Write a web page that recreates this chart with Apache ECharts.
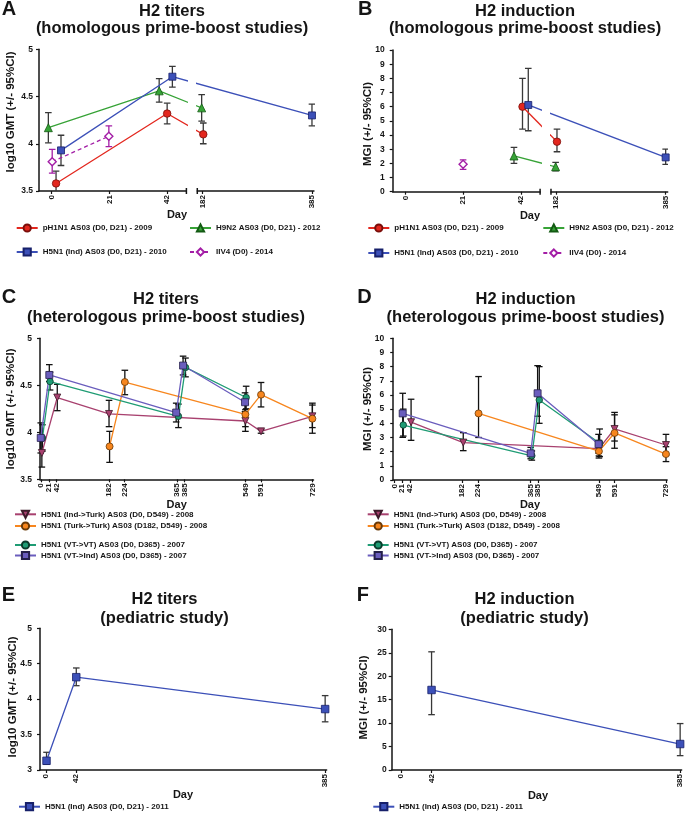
<!DOCTYPE html>
<html><head><meta charset="utf-8">
<script src="https://cdn.jsdelivr.net/npm/echarts@6/dist/echarts.min.js"></script>
<style>html,body{margin:0;padding:0;background:#fff}#c{width:685px;height:814px}</style>
</head><body><div id="c"></div><script>
// ================= DATA =================
// each point: [day, value, lower 95%CI, upper 95%CI]
// Panel A - H2 titers (log10 GMT), homologous prime-boost
const A_pH1N1 = [[1.6, 3.58, 3.45, 3.71], [42, 4.32, 4.21, 4.43], [183.5, 4.10, 4.00, 4.22]];
const A_H9N2  = [[-1.2, 4.17, 4.01, 4.33], [39.1, 4.56, 4.44, 4.69], [180.5, 4.38, 4.24, 4.52]];
const A_H5N1  = [[3.4, 3.93, 3.77, 4.09], [43.9, 4.71, 4.60, 4.82], [385, 4.30, 4.19, 4.42]];
const A_IIV4  = [[0.2, 3.81, 3.69, 3.94], [20.8, 4.08, 3.97, 4.19]];
// Panel B - H2 induction (MGI), homologous prime-boost
const B_pH1N1 = [[42.6, 6.0, 4.42, 8.0], [183.5, 3.53, 2.82, 4.42]];
const B_H9N2  = [[39.5, 2.52, 2.0, 3.13], [181, 1.76, 1.48, 2.07]];
const B_H5N1  = [[44.7, 6.12, 4.3, 8.7], [385, 2.42, 1.93, 3.01]];
const B_IIV4  = [[21, 1.93, 1.58, 2.24]];
// Panel C - H2 titers, heterologous prime-boost
const C_IndTurk  = [[2, 3.78, 3.63, 3.93], [43.4, 4.37, 4.23, 4.51], [182.5, 4.195, 4.06, 4.34], [549, 4.12, 4.01, 4.24], [591, 4.01, 3.99, 4.03], [729, 4.17, 4.05, 4.29]];
const C_TurkTurk = [[184, 3.85, 3.68, 4.01], [225, 4.535, 4.40, 4.66], [549, 4.19, 4.06, 4.30], [591, 4.40, 4.27, 4.53], [729, 4.145, 3.99, 4.31]];
const C_VTVT     = [[3.5, 3.94, 3.80, 4.08], [24, 4.54, 4.45, 4.64], [369, 4.17, 4.05, 4.30], [388, 4.69, 4.59, 4.79], [551, 4.37, 4.25, 4.49]];
const C_VTInd    = [[-1, 3.94, 3.78, 4.10], [22, 4.61, 4.54, 4.72], [363, 4.21, 4.11, 4.31], [381.5, 4.71, 4.61, 4.81], [548, 4.32, 4.22, 4.42]];
// Panel D - H2 induction, heterologous prime-boost
const D_IndTurk  = [[45, 4.08, 2.8, 5.7], [185, 2.64, 2.07, 3.34], [549, 2.22, 1.7, 2.8], [591, 3.6, 2.75, 4.77], [729, 2.47, 1.75, 3.22]];
const D_TurkTurk = [[226, 4.7, 3.0, 7.3], [549, 2.03, 1.55, 2.5], [591, 3.32, 2.24, 4.6], [729, 1.83, 1.3, 2.35]];
const D_VTVT     = [[24, 3.88, 3.1, 5.0], [369, 1.71, 1.4, 2.05], [389, 5.65, 4.0, 8.0], [551, 2.6, 1.65, 3.6]];
const D_VTInd    = [[22.5, 4.7, 3.01, 6.12], [366, 1.88, 1.5, 2.3], [384.5, 6.12, 4.5, 8.07], [548, 2.53, 1.9, 3.22]];
// Panels E/F - pediatric study
const E_H5N1 = [[1, 3.13, 3.08, 3.25], [42, 4.31, 4.19, 4.44], [385, 3.86, 3.68, 4.05]];
const F_H5N1 = [[42, 17.06, 11.8, 25.2], [385, 5.54, 3.06, 9.9]];

// names and tick labels
const homNames = ['pH1N1 AS03 (D0, D21) - 2009', 'H9N2 AS03 (D0, D21) - 2012', 'H5N1 (Ind) AS03 (D0, D21) - 2010', 'IIV4 (D0) - 2014'];
const hetNames = ['H5N1 (Ind->Turk) AS03 (D0, D549) - 2008', 'H5N1 (Turk->Turk) AS03 (D182, D549) - 2008', 'H5N1 (VT->VT) AS03 (D0, D365) - 2007', 'H5N1 (VT->Ind) AS03 (D0, D365) - 2007'];
const pedName = 'H5N1 (Ind) AS03 (D0, D21) - 2011';
const ticksHom = [0, 21, 42, 182, 385];
const ticksHet = [0, 21, 42, 182, 224, 365, 385, 549, 591, 729];
const ticksPed = [0, 42, 385];

// ================= STYLE / LAYOUT =================
const FONT = '"Liberation Sans", Arial, Helvetica, sans-serif';
const INK = '#151515';
const HOM_STYLE = [
  {color: '#e3271e', border: '#7a0e0a', symbol: 'circle', size: 7.5, err: '#383838'},
  {color: '#37a337', border: '#135a13', symbol: 'triangle', size: 8, err: '#383838'},
  {color: '#3c50b8', border: '#17206a', symbol: 'rect', size: 7, err: '#383838'},
  {color: '#a31ea6', fill: '#ffffff', border: '#a31ea6', symbol: 'diamond', size: 8, dash: [4, 3], err: '#a31ea6'}
];
const HET_STYLE = [
  {color: '#a8416f', border: '#3d1a2a', symbol: 'triangle', rotate: 180, size: 7, err: '#111'},
  {color: '#f7861e', border: '#6a3a08', symbol: 'circle', size: 7, err: '#111'},
  {color: '#1f9c74', border: '#0b3b2b', symbol: 'circle', size: 6.5, err: '#111'},
  {color: '#6a5dbd', border: '#25204a', symbol: 'rect', size: 7, err: '#111'}
];
const PED_STYLE = {color: '#3c50b8', border: '#17206a', symbol: 'rect', size: 7.5, err: '#383838'};

// broken day axis used in panels A/B (two linear segments with a gap)
const BRK = {lo: [-4.6, 49], hi: [172.4, 388.7], gap: 3.96, k: 0.19615, ppu: 2.75};
function brokenScale(d) { return d <= BRK.lo[1] ? d : BRK.lo[1] + BRK.gap + (d - BRK.hi[0]) * BRK.k; }
function brokenInverse(v) { return v <= BRK.lo[1] + BRK.gap / 2 ? v : BRK.hi[0] + (v - BRK.lo[1] - BRK.gap) / BRK.k; }
const identity = d => d;

const grids = [], xAxes = [], yAxes = [], series = [], legends = [], graphics = [];

function xAxisCfg(gridIndex, min, max, ticks, formatter) {
  return {gridIndex, type: 'value', min, max, splitLine: {show: false},
    axisLine: {show: true, onZero: false, lineStyle: {color: INK, width: 1.5}},
    axisTick: {show: true, customValues: ticks, length: 3, lineStyle: {color: INK, width: 1.2}},
    axisLabel: {show: true, customValues: ticks, rotate: 90, margin: 4, fontSize: 8, fontWeight: 'bold',
      fontFamily: FONT, color: INK, formatter: formatter || (v => String(Math.round(v)))}};
}
function yAxisCfg(gridIndex, c, show) {
  return {gridIndex, type: 'value', show, min: c.min, max: c.max, interval: c.interval, splitLine: {show: false},
    axisLine: {show: true, onZero: false, lineStyle: {color: INK, width: 1.5}},
    axisTick: {show: true, length: 3, lineStyle: {color: INK, width: 1.2}},
    axisLabel: {margin: c.margin, fontSize: 8.5, fontWeight: 'bold', fontFamily: FONT, color: INK}};
}
function lineSeries(name, pts, st, xi, yi, mapX) {
  return {type: 'line', name, xAxisIndex: xi, yAxisIndex: yi, z: 3, clip: true, animation: false,
    data: pts.map(p => [mapX(p[0]), p[1]]),
    symbol: st.symbol, symbolSize: st.size, symbolRotate: st.rotate || 0,
    itemStyle: {color: st.fill || st.color, borderColor: st.border, borderWidth: st.fill ? 1.4 : 0.8},
    lineStyle: {color: st.color, width: 1.3, type: st.dash || 'solid'},
    emphasis: {disabled: true}};
}
function errorSeries(pts, color, xi, yi, mapX, clip) {
  return {type: 'custom', xAxisIndex: xi, yAxisIndex: yi, clip, z: 2, silent: true, animation: false,
    data: pts.map(p => [mapX(p[0]), p[1], p[2], p[3]]),
    encode: {x: 0, y: 1},
    renderItem(params, api) {
      const x = api.value(0);
      const a = api.coord([x, api.value(2)]), b = api.coord([x, api.value(3)]);
      const w = 3.3, st = {stroke: color, lineWidth: 1.3};
      return {type: 'group', children: [
        {type: 'line', shape: {x1: a[0], y1: a[1], x2: b[0], y2: b[1]}, style: st},
        {type: 'line', shape: {x1: a[0] - w, y1: a[1], x2: a[0] + w, y2: a[1]}, style: st},
        {type: 'line', shape: {x1: b[0] - w, y1: b[1], x2: b[0] + w, y2: b[1]}, style: st}]};
    }};
}
function addLegend(name, left, rowY) {
  legends.push({data: [name], left, top: rowY - 5, padding: 0, itemWidth: 21, itemHeight: 9, selectedMode: false,
    textStyle: {fontFamily: FONT, fontWeight: 'bold', fontSize: 8, color: INK, lineHeight: 10}});
}
function text(x, y, str, size, opts) {
  opts = opts || {};
  graphics.push({type: 'text', x, y, rotation: opts.rot || 0, silent: true,
    style: {text: str, font: 'bold ' + size + 'px ' + FONT, fill: INK,
      align: opts.align || 'center', textAlign: opts.align || 'center', verticalAlign: 'middle', textVerticalAlign: 'middle'}});
}

function brokenPanel(left, top, height, yCfg, ticks, dataSets, names, styles) {
  const lw = (BRK.lo[1] - BRK.lo[0]) * BRK.ppu;
  const rl = left + lw + BRK.gap * BRK.ppu;
  const rw = (BRK.hi[1] - BRK.hi[0]) * BRK.k * BRK.ppu;
  const g = grids.length;
  grids.push({left, top, width: lw, height});
  grids.push({left: rl, top, width: rw, height});
  const leftTicks = ticks.filter(d => d <= BRK.lo[1]).map(brokenScale);
  const rightTicks = ticks.filter(d => d >= BRK.hi[0]).map(brokenScale);
  xAxes.push(xAxisCfg(g, BRK.lo[0], BRK.lo[1], leftTicks, null));
  xAxes.push(xAxisCfg(g + 1, brokenScale(BRK.hi[0]), brokenScale(BRK.hi[1]), rightTicks,
    v => String(Math.round(brokenInverse(v)))));
  yAxes.push(yAxisCfg(g, yCfg, true));
  yAxes.push(yAxisCfg(g + 1, yCfg, false));
  dataSets.forEach((pts, i) => {
    series.push(lineSeries(names[i], pts, styles[i], g, g, brokenScale));
    series.push(lineSeries(names[i], pts, styles[i], g + 1, g + 1, brokenScale));
    series.push(errorSeries(pts.filter(p => p[0] <= BRK.lo[1]), styles[i].err, g, g, brokenScale, true));
    series.push(errorSeries(pts.filter(p => p[0] >= BRK.hi[0]), styles[i].err, g + 1, g + 1, brokenScale, true));
  });
  const yb = top + height;
  [left + lw, rl].forEach(x => graphics.push({type: 'line', silent: true,
    shape: {x1: x, y1: yb - 3, x2: x, y2: yb + 3}, style: {stroke: INK, lineWidth: 1.5}}));
}
function linearPanel(left, top, width, height, xMin, xMax, yCfg, ticks, dataSets, names, styles) {
  const g = grids.length;
  grids.push({left, top, width, height});
  xAxes.push(xAxisCfg(g, xMin, xMax, ticks, null));
  yAxes.push(yAxisCfg(g, yCfg, true));
  dataSets.forEach((pts, i) => {
    series.push(lineSeries(names[i], pts, styles[i], g, g, identity));
    series.push(errorSeries(pts, styles[i].err, g, g, identity, false));
  });
}

// ---- panels ----
brokenPanel(39, 49.3, 141.7, {min: 3.5, max: 5, interval: 0.5, margin: 6}, ticksHom,
  [A_pH1N1, A_H9N2, A_H5N1, A_IIV4], homNames, HOM_STYLE);
brokenPanel(392.7, 50, 141.7, {min: 0, max: 10, interval: 1, margin: 8}, ticksHom,
  [B_pH1N1, B_H9N2, B_H5N1, B_IIV4], homNames, HOM_STYLE);
linearPanel(40, 338.3, 273.5, 141, -3, 732, {min: 3.5, max: 5, interval: 0.5, margin: 8}, ticksHet,
  [C_IndTurk, C_TurkTurk, C_VTVT, C_VTInd], hetNames, HET_STYLE);
linearPanel(393.2, 338.3, 273.9, 141.7, -3, 732, {min: 0, max: 10, interval: 1, margin: 9}, ticksHet,
  [D_IndTurk, D_TurkTurk, D_VTVT, D_VTInd], hetNames, HET_STYLE);
linearPanel(40, 628.3, 286.6, 141.7, -8, 387, {min: 3, max: 5, interval: 0.5, margin: 8}, ticksPed,
  [E_H5N1], [pedName], [PED_STYLE]);
linearPanel(391.7, 629.3, 289.9, 140.7, -13, 387, {min: 0, max: 30, interval: 5, margin: 5}, ticksPed,
  [F_H5N1], [pedName], [PED_STYLE]);

// ---- legends ----
addLegend(homNames[0], 15.7, 228); addLegend(homNames[1], 189, 228);
addLegend(homNames[2], 15.7, 252); addLegend(homNames[3], 189, 252);
addLegend(homNames[0], 367.3, 228); addLegend(homNames[1], 542.3, 228);
addLegend(homNames[2], 367.3, 253); addLegend(homNames[3], 542.3, 253);
[514.3, 526, 545, 555.5].forEach((y, i) => { addLegend(hetNames[i], 14, y); addLegend(hetNames[i], 366.7, y); });
addLegend(pedName, 18, 806.7); addLegend(pedName, 372.3, 806.7);

// ---- titles, panel letters, axis names ----
[['A', 1.7, 9.7], ['B', 358, 9.7], ['C', 1.7, 297.5], ['D', 357.3, 297.5], ['E', 1.7, 595.8], ['F', 356.7, 595.8]]
  .forEach(l => text(l[1], l[2], l[0], 20, {align: 'left'}));
[['H2 titers', '(homologous prime-boost studies)', 172, 11.4, 28.5],
 ['H2 induction', '(homologous prime-boost studies)', 525, 11.4, 28.6],
 ['H2 titers', '(heterologous prime-boost studies)', 166, 299, 317.5],
 ['H2 induction', '(heterologous prime-boost studies)', 525.5, 299, 317.5],
 ['H2 titers', '(pediatric study)', 164.5, 599, 618],
 ['H2 induction', '(pediatric study)', 524.5, 599, 618]]
  .forEach(t => { text(t[2], t[3], t[0], 16.5); text(t[2], t[4], t[1], 16.5); });
[[11, 112, 'log10 GMT (+/- 95%CI)'], [367.5, 124, 'MGI (+/- 95%CI)'],
 [10.8, 409, 'log10 GMT (+/- 95%CI)'], [367.5, 409, 'MGI (+/- 95%CI)'],
 [12.5, 697, 'log10 GMT (+/- 95%CI)'], [364, 697.5, 'MGI (+/- 95%CI)']]
  .forEach(t => text(t[0], t[1], t[2], 11.5, {rot: Math.PI / 2}));
[[177, 215], [530, 216], [176.7, 505], [530, 505], [183, 795], [538, 796]]
  .forEach(p => text(p[0], p[1], 'Day', 11));

const chart = echarts.init(document.getElementById('c'), null, {renderer: 'canvas'});
chart.setOption({
  animation: false,
  backgroundColor: '#ffffff',
  grid: grids, xAxis: xAxes, yAxis: yAxes, series, legend: legends,
  graphic: {elements: graphics}
});
</script></body></html>
